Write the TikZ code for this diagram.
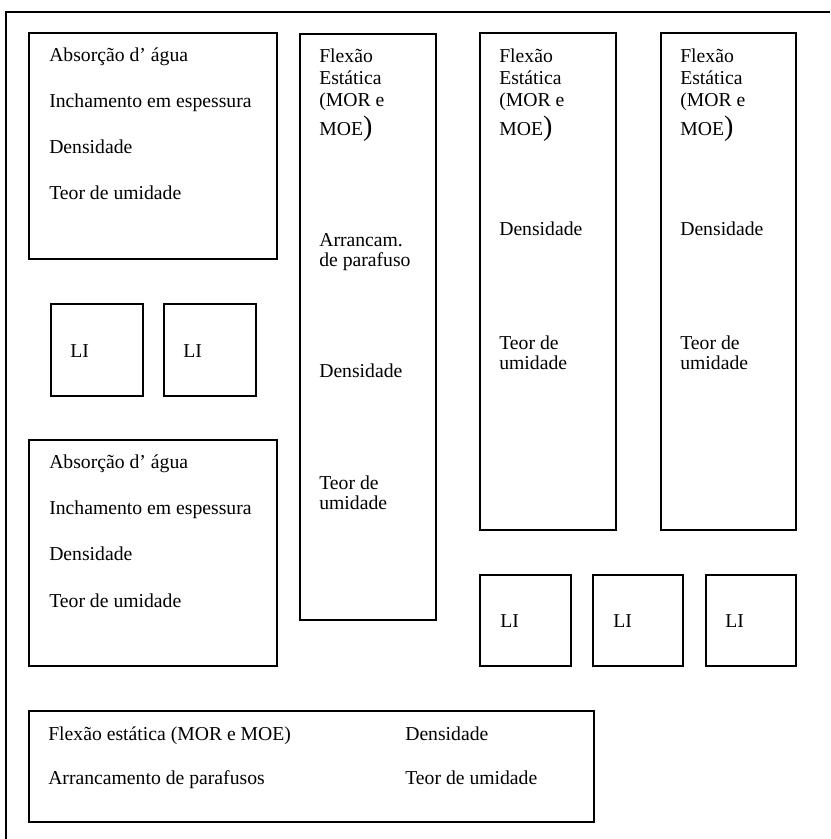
\documentclass[tikz,border=0pt]{standalone}
\usepackage{fontspec}
\setmainfont{Liberation Serif}
\usetikzlibrary{fit}
\tikzset{
  panel/.style={draw, line width=1.1pt, inner sep=0pt},
  entry/.style={anchor=base west, inner sep=0pt,
                font=\fontsize{14}{14}\selectfont},
  frameline/.style={line width=1pt}
}
\newcommand{\bigclose}{{\fontsize{20}{20}\selectfont)}}

\begin{document}
\begin{tikzpicture}[x=0.025cm, y=-0.025cm]
  \useasboundingbox (0,0) rectangle (830,839);

  % Moldura
  \coordinate (fbot) at (6,839);
  \coordinate (ftop) at (6,12);
  \coordinate (fright) at (830,12);
  \draw[frameline] (fbot) -- (ftop) -- (fright);

  % Absorcao (superior)
  \node[panel, fit={(29,33) (277,259)}] (absA) {};
  \node[entry] (absA1) at (49,62) {Absorção d’ água};
  \node[entry] (absA2) at (49,108) {Inchamento em espessura};
  \node[entry] (absA3) at (49,154) {Densidade};
  \node[entry] (absA4) at (49,200) {Teor de umidade};

  % LI (esquerda)
  \node[panel, fit={(51,304) (143,396)}] (liA) {};
  \node[entry] at (70,357) {LI};
  \node[panel, fit={(164,304) (256,396)}] (liB) {};
  \node[entry] at (183,357) {LI};

  % Absorcao (inferior)
  \node[panel, fit={(29,440) (277,666)}] (absB) {};
  \node[entry] (absB1) at (49,468) {Absorção d’ água};
  \node[entry] (absB2) at (49,514) {Inchamento em espessura};
  \node[entry] (absB3) at (49,560) {Densidade};
  \node[entry] (absB4) at (49,607) {Teor de umidade};

  % Flexao + arrancamento
  \node[panel, fit={(300,34) (436,620)}] (flexA) {};
  \node[entry] (flexA1) at (319,63) {Flexão};
  \node[entry] (flexA2) at (319,85) {Estática};
  \node[entry] (flexA3) at (319,107) {(MOR e};
  \node[entry] (flexA4) at (319,136) {MOE\bigclose};
  \node[entry] (flexA5) at (319,247) {Arrancam.};
  \node[entry] (flexA6) at (319,267) {de parafuso};
  \node[entry] (flexA7) at (319,377) {Densidade};
  \node[entry] (flexA8) at (319,489) {Teor de};
  \node[entry] (flexA9) at (319,509) {umidade};

  % Flexao (meio)
  \node[panel, fit={(480,33) (616,530)}] (flexB) {};
  \node[entry] (flexB1) at (499,63) {Flexão};
  \node[entry] (flexB2) at (499,85) {Estática};
  \node[entry] (flexB3) at (499,107) {(MOR e};
  \node[entry] (flexB4) at (499,136) {MOE\bigclose};
  \node[entry] (flexB5) at (499,236) {Densidade};
  \node[entry] (flexB6) at (499,349) {Teor de};
  \node[entry] (flexB7) at (499,369) {umidade};

  % Flexao (direita)
  \node[panel, fit={(661,33) (796,530)}] (flexC) {};
  \node[entry] (flexC1) at (680,63) {Flexão};
  \node[entry] (flexC2) at (680,85) {Estática};
  \node[entry] (flexC3) at (680,107) {(MOR e};
  \node[entry] (flexC4) at (680,136) {MOE\bigclose};
  \node[entry] (flexC5) at (680,236) {Densidade};
  \node[entry] (flexC6) at (680,349) {Teor de};
  \node[entry] (flexC7) at (680,369) {umidade};

  % LI (direita)
  \node[panel, fit={(480,575) (571,666)}] (liC) {};
  \node[entry] at (500,627) {LI};
  \node[panel, fit={(593,575) (683,666)}] (liD) {};
  \node[entry] at (613,627) {LI};
  \node[panel, fit={(706,575) (796,666)}] (liE) {};
  \node[entry] at (725,627) {LI};

  % Flexao estatica + arrancamento (rodape)
  \node[panel, fit={(29,711) (594,822)}] (rodape) {};
  \node[entry] (rod1) at (48,740) {Flexão estática (MOR e MOE)};
  \node[entry] (rod2) at (48,784) {Arrancamento de parafusos};
  \node[entry] (rod3) at (405,740) {Densidade};
  \node[entry] (rod4) at (405,784) {Teor de umidade};
\end{tikzpicture}
\end{document}
